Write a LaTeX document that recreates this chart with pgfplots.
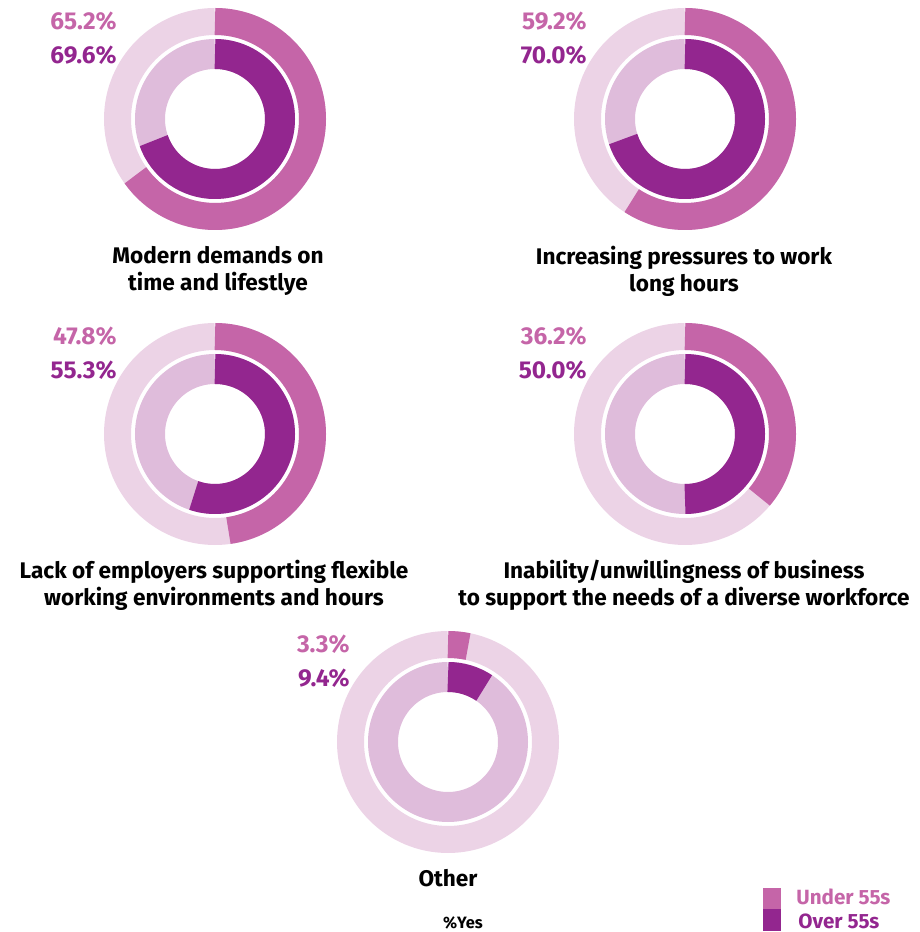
\documentclass[border=0pt]{standalone}
\usepackage{pgfplots}
\pgfplotsset{compat=1.18}
\usepackage{fontspec}
\setmainfont{Fira Sans}
\definecolor{under}{HTML}{C565A8}
\definecolor{underbg}{HTML}{ECD3E6}
\definecolor{over}{HTML}{93268F}
\definecolor{overbg}{HTML}{DFBCDB}

% ring: centre x, centre y, under-55 %, over-55 %
\newcommand{\donut}[4]{%
  \draw[underbg, line width=13.5pt] (axis cs:#1,#2) ++(90:48.75pt) arc[start angle=90, end angle=-270, radius=48.75pt];
  \draw[under, line width=13.5pt] (axis cs:#1,#2) ++(90:48.75pt) arc[start angle=90, end angle={90-3.6*#3}, radius=48.75pt];
  \draw[overbg, line width=15pt] (axis cs:#1,#2) ++(90:32.5pt) arc[start angle=90, end angle=-270, radius=32.5pt];
  \draw[over, line width=15pt] (axis cs:#1,#2) ++(90:32.5pt) arc[start angle=90, end angle={90-3.6*#4}, radius=32.5pt];
  \node[anchor=east, inner sep=0pt, text=under, font=\bfseries\fontsize{12.2}{14}\selectfont] at (axis cs:{#1-98},{#2+98}) {#3\%};
  \node[anchor=east, inner sep=0pt, text=over, font=\bfseries\fontsize{12.2}{14}\selectfont] at (axis cs:{#1-98},{#2+64}) {#4\%};
}

\begin{document}
\begin{tikzpicture}
\begin{axis}[
  x=0.5pt, y=0.5pt,
  xmin=0, xmax=920, ymin=0, ymax=932,
  hide axis, clip=false,
]
\path (axis cs:0,0) rectangle (axis cs:920,932);

\donut{215}{813}{65.2}{69.6}
\donut{685}{813}{59.2}{70.0}
\donut{215}{498}{47.8}{55.3}
\donut{685}{498}{36.2}{50.0}
\donut{448}{190}{3.3}{9.4}

\tikzset{ttl/.style={align=center, inner sep=0pt, font=\bfseries\fontsize{11.3}{13.5}\selectfont}}
\node[ttl] at (axis cs:218,661) {Modern demands on\\time and lifestlye};
\node[ttl] at (axis cs:684,661) {Increasing pressures to work\\long hours};
\node[ttl] at (axis cs:214,347) {Lack of employers supporting flexible\\working environments and hours};
\node[ttl] at (axis cs:684,347) {Inability/unwillingness of business\\to support the needs of a diverse workforce};
\node[ttl] at (axis cs:448,54) {Other};
\node[inner sep=0pt, font=\bfseries\fontsize{8.2}{9}\selectfont] at (axis cs:463,9) {\%Yes};

\fill[under] (axis cs:763,23) rectangle (axis cs:781,44);
\fill[over] (axis cs:763,1) rectangle (axis cs:781,23);
\node[anchor=west, inner sep=0pt, text=under, font=\bfseries\fontsize{10.3}{12}\selectfont] at (axis cs:796,35) {Under 55s};
\node[anchor=west, inner sep=0pt, text=over, font=\bfseries\fontsize{10.3}{12}\selectfont] at (axis cs:798,11) {Over 55s};
\end{axis}
\end{tikzpicture}
\end{document}
